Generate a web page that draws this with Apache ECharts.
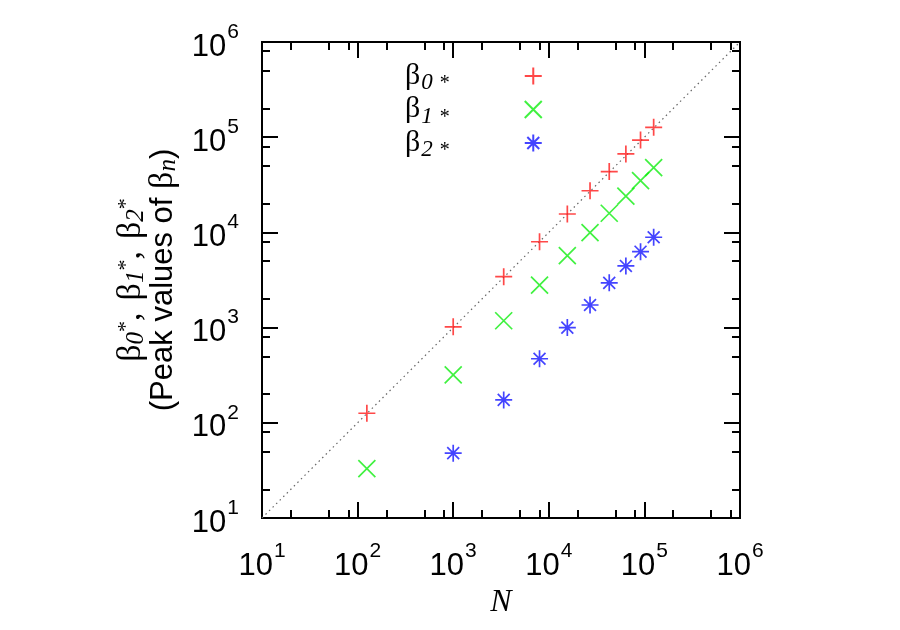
<!DOCTYPE html>
<html>
<head>
<meta charset="utf-8">
<script src="https://cdn.jsdelivr.net/npm/echarts@6/dist/echarts.min.js"></script>
<style>
  html, body { margin: 0; padding: 0; background: #fff; }
  #main { width: 900px; height: 630px; }
</style>
</head>
<body>
<div id="main"></div>
<script>
// N = L^3, L = 5..50
const nAll = [125, 1000, 3375, 8000, 15625, 27000, 42875, 64000, 91125, 125000]
const beta0 = [126, 1020, 3430, 7980, 15600, 27400, 43500, 66700, 93300, 127000]
const beta1 = [33, 318, 1180, 2800, 5690, 9930, 15900, 24100, 34900, 47900]
// beta2 starts at N = 1000
const nBeta2 = [1000, 3375, 8000, 15625, 27000, 42875, 64000, 91125, 125000]
const beta2 = [48, 174, 471, 1000, 1727, 2950, 4440, 6270, 8890]

const majorTicks = [10, 100, 1000, 10000, 100000, 1000000]
const minorTicks = [20, 50, 80, 200, 500, 800, 2000, 5000, 8000, 20000, 50000, 80000, 200000, 500000, 800000]
const diagonal = [[10, 10], [1000000, 1000000]]

const PLUS = 'path://M0,8L16,8M8,0L8,16'
const CROSS = 'path://M0,0L16,16M16,0L0,16'
const STAR = 'path://M0,8L16,8M8,0L8,16M2.4,2.4L13.6,13.6M13.6,2.4L2.4,13.6'

function pairs (xs, ys) {
  return xs.map((x, i) => [x, ys[i]])
}

function powLabel (v) {
  return '{b|10}{s|' + Math.round(Math.log10(v)) + '}'
}

const labelRich = {
  b: { fontFamily: 'Liberation Sans', fontSize: 31, color: '#000', padding: [10, 0, 0, 0] },
  s: { fontFamily: 'Liberation Sans', fontSize: 21, color: '#000', verticalAlign: 'top', padding: [0, 0, 0, 1] }
}

const lineStyle = { color: '#000', width: 2 }

function makeAxis (pos, dim, major, show) {
  return {
    type: 'log',
    logBase: 10,
    min: 10,
    max: 1000000,
    position: pos,
    gridIndex: 0,
    axisLine: { show: true, onZero: false, lineStyle: lineStyle },
    axisTick: {
      show: true,
      inside: true,
      length: major ? 16 : 8,
      customValues: major ? majorTicks : minorTicks,
      lineStyle: lineStyle
    },
    axisLabel: {
      show: show,
      customValues: majorTicks,
      formatter: powLabel,
      margin: 23,
      rich: labelRich
    },
    splitLine: { show: false },
    minorTick: { show: false }
  }
}

const chart = echarts.init(document.getElementById('main'))

const serif = 'Liberation Serif'

let option = {
  animation: false,
  backgroundColor: '#fff',
  grid: { left: 262, top: 42, width: 478, height: 476 },
  xAxis: [
    Object.assign(makeAxis('bottom', 'x', true, true), {
      name: '{n|N}',
      nameLocation: 'middle',
      nameGap: 66,
      nameTextStyle: { rich: { n: { fontFamily: serif, fontStyle: 'italic', fontSize: 32, color: '#000' } } }
    }),
    makeAxis('top', 'x', true, false),
    makeAxis('bottom', 'x', false, false),
    makeAxis('top', 'x', false, false)
  ],
  yAxis: [
    Object.assign(makeAxis('left', 'y', true, true), {
      name: '{g|β}{i|0}{a|*}{c|,}{g|β}{i|1}{a|*}{c|,}{g|β}{i|2}{a|*}\n{p|(Peak values of }{g|β}{i|n}{p|)}',
      nameLocation: 'middle',
      nameRotate: 90,
      nameGap: 81,
      nameTextStyle: {
        rich: {
          g: { fontFamily: serif, fontSize: 34, color: '#000', lineHeight: 32 },
          c: { fontFamily: serif, fontSize: 34, color: '#000', lineHeight: 32, padding: [0, 12, 0, 0] },
          p: { fontFamily: 'Liberation Sans', fontSize: 31, color: '#000', lineHeight: 32 },
          i: { fontFamily: serif, fontStyle: 'italic', fontSize: 25, color: '#000', lineHeight: 18, padding: [10, 0, 0, 0] },
          a: { fontFamily: serif, fontSize: 22, color: '#000', lineHeight: 18, verticalAlign: 'top' }
        }
      }
    }),
    makeAxis('right', 'y', true, false),
    makeAxis('left', 'y', false, false),
    makeAxis('right', 'y', false, false)
  ],
  legend: {
    orient: 'vertical',
    left: 400,
    top: 56,
    align: 'right',
    itemWidth: 17,
    itemHeight: 17,
    itemGap: 0,
    data: ['β0*', 'β1*', 'β2*'],
    formatter: function (name) {
      return '{g|β}{s|' + name.charAt(1) + '}{a| *}{sp|}'
    },
    textStyle: {
      rich: {
        g: { fontFamily: serif, fontSize: 30, color: '#000', lineHeight: 17 },
        s: { fontFamily: serif, fontStyle: 'italic', fontSize: 23, color: '#000', padding: [14, 0, 0, 1] },
        a: { fontFamily: serif, fontSize: 20, color: '#000', padding: [16, 0, 0, 2] },
        sp: { width: 70 }
      }
    }
  },
  series: [
    {
      type: 'line',
      data: diagonal,
      symbol: 'none',
      silent: true,
      lineStyle: { color: '#666', width: 1.2, type: [1.5, 3.5] },
      z: 1
    },
    {
      name: 'β0*',
      type: 'scatter',
      data: pairs(nAll, beta0),
      symbol: PLUS,
      symbolSize: 17,
      itemStyle: { color: 'none', borderColor: '#ff1a1a', borderWidth: 1.7 }
    },
    {
      name: 'β1*',
      type: 'scatter',
      data: pairs(nAll, beta1),
      symbol: CROSS,
      symbolSize: 17,
      itemStyle: { color: 'none', borderColor: '#10ee10', borderWidth: 1.7 }
    },
    {
      name: 'β2*',
      type: 'scatter',
      data: pairs(nBeta2, beta2),
      symbol: STAR,
      symbolSize: 17,
      itemStyle: { color: 'none', borderColor: '#1515ff', borderWidth: 1.7 }
    }
  ]
}

chart.setOption(option, true)
</script>
</body>
</html>
